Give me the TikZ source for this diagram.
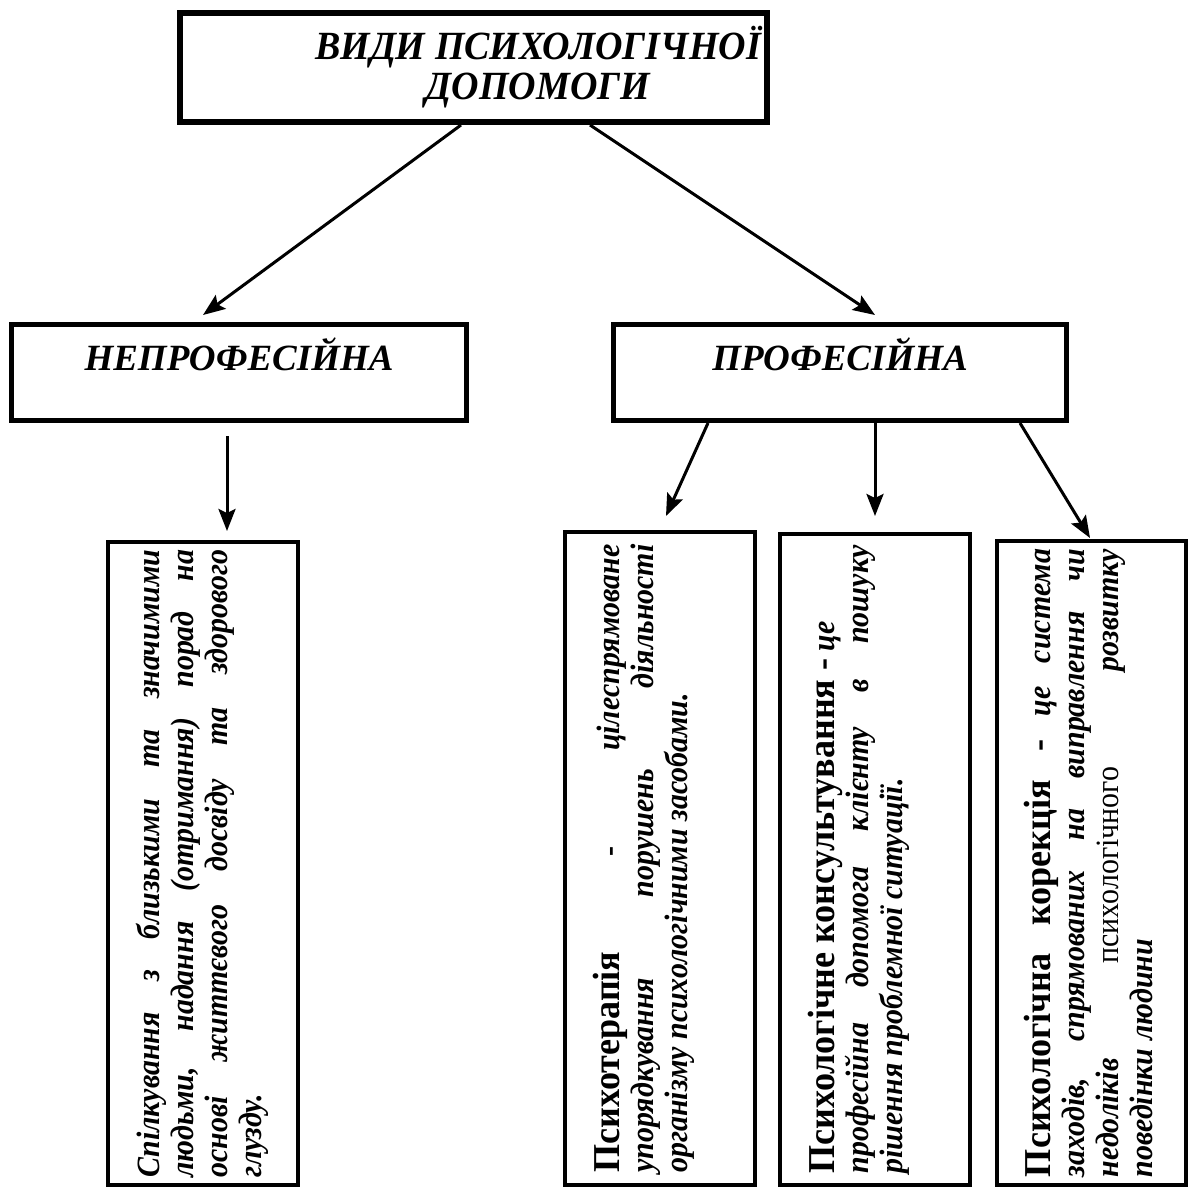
\documentclass[tikz,border=0pt]{standalone}
\usepackage{fontspec}
\setmainfont{Liberation Serif}
\newfontfamily\lowfam{Liberation Serif}[FakeStretch=0.92]
\newfontfamily\headfam{Liberation Serif}[FakeStretch=0.95]
\usetikzlibrary{arrows.meta}
\newcommand{\headfont}{\headfam\fontsize{38}{40}\selectfont\upshape\bfseries}
\newcommand{\lowtext}[1]{\begin{minipage}[c][134pt][t]{628pt}\lowfam\fontsize{32.5}{34}\selectfont\bfseries\itshape\hyphenpenalty=10000\exhyphenpenalty=10000\noindent #1\end{minipage}}
\tikzset{
  topbx/.style={draw, line width=6pt, minimum width=587pt, minimum height=109pt, inner sep=0pt, align=center, font=\headfam\fontsize{40}{40}\selectfont\bfseries\itshape},
  kind/.style={draw, line width=5pt, minimum width=455pt, minimum height=96pt, inner sep=0pt, text height=25pt, text depth=30pt, font=\fontsize{37}{38}\selectfont\bfseries\itshape},
  low/.style={draw, line width=4pt, rotate=90, inner sep=0pt, minimum height=190pt},
  arr/.style={-{Stealth[length=22pt,width=17pt,inset=4pt]}, line width=3pt},
}
\begin{document}
\begin{tikzpicture}[x=1pt, y=-1pt]
  \useasboundingbox (0,0) rectangle (1194,1188);
  \node[topbx] (kinds) at (473.5,67.5) {\hspace*{129pt}ВИДИ ПСИХОЛОГІЧНОЇ\\\hspace*{129pt}ДОПОМОГИ};
  \node[kind] (amat) at (239,372.5) {НЕПРОФЕСІЙНА};
  \node[kind, minimum width=453pt] (prof) at (840,372.5) {ПРОФЕСІЙНА};
  \node[low, minimum width=643pt] (talk) at (203,863.5) {\lowtext{Спілкування з близькими та значимими\linebreak людьми, надання (отримання) порад на\linebreak основі життєвого досвіду та здорового\linebreak глузду.}};
  \node[low, minimum width=653pt] (ther) at (660,858.5) {\lowtext{{\headfont Психотерапія} {\upshape -} цілеспрямоване\linebreak упорядкування порушень діяльності\linebreak організму психологічними засобами.}};
  \node[low, minimum width=651pt] (cons) at (875,859.5) {\lowtext{{\headfont Психологічне консультування -} це\\ професійна допомога клієнту в пошуку\linebreak рішення проблемної ситуації.}};
  \node[low, minimum width=644pt, minimum height=189pt] (corr) at (1091.5,863) {\lowtext{{\headfont Психологічна корекція -} це система\linebreak заходів, спрямованих на виправлення чи\linebreak недоліків {\upshape\mdseries психологічного} розвитку\linebreak поведінки людини}};
  \draw[arr] ([xshift=-12.5pt]kinds.south) -- ([xshift=-36pt,yshift=7pt]amat.north);
  \draw[arr] ([xshift=116.5pt]kinds.south) -- ([xshift=35pt,yshift=7pt]prof.north);
  \draw[arr] ([xshift=-12pt,yshift=-13pt]amat.south) -- ([xshift=24pt,yshift=9pt]talk.east);
  \draw[arr] ([xshift=-132pt]prof.south) -- ([xshift=6pt,yshift=14pt]ther.east);
  \draw[arr] ([xshift=35pt]prof.south) -- ([yshift=16pt]cons.east);
  \draw[arr] ([xshift=180pt]prof.south) -- ([xshift=-1.5pt,yshift=1pt]corr.east);
\end{tikzpicture}
\end{document}
